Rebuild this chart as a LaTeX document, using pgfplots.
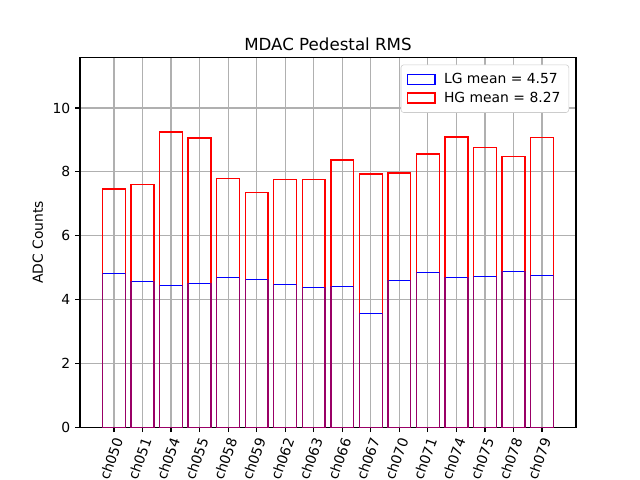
\documentclass[border=0pt]{standalone}
\usepackage{pgfplots}
\pgfplotsset{compat=1.18}
\usepackage{fontspec}
\setmainfont{DejaVu Sans}
\definecolor{gridgray}{HTML}{B0B0B0}
\begin{document}
\begin{tikzpicture}
\begin{axis}[
 width=357.12pt, height=266.11pt, scale only axis,
 xmin=-1.19, xmax=16.19, ymin=0, ymax=11.58,
 xtick={0,...,15},
 xticklabels={ch050,ch051,ch054,ch055,ch058,ch059,ch062,ch063,ch066,ch067,ch070,ch071,ch074,ch075,ch078,ch079},
 ytick={0,2,4,6,8,10},
 tick align=outside, major tick length=3.5pt,
 tick pos=left,
 grid=major, grid style={gridgray, line width=0.8pt},
 axis line style={line width=0.8pt},
 every tick/.style={black, line width=0.8pt},
 /pgf/number format/assume math mode=true,
 tick label style={font=\fontsize{10}{12}\selectfont},
 xticklabel style={xshift=4.5pt, yshift=-1.5pt, rotate=70, anchor=east},
 ylabel={ADC Counts},
 title={MDAC Pedestal RMS},
 title style={font=\fontsize{12}{14}\selectfont, yshift=-4.5pt},
 label style={font=\fontsize{10}{12}\selectfont},
 legend style={at={(1,1)}, anchor=north east, xshift=-5pt, yshift=-5pt, draw=black!20, rounded corners=2pt, inner sep=4pt, font=\fontsize{10}{12}\selectfont, row sep=0.5pt},
 legend cell align=left,
]
\addplot[ybar, bar width=0.8, bar shift=0pt, draw=blue, fill=none, line width=1pt,
  legend image code/.code={\draw[blue, line width=1pt, sharp corners] (0pt,-3.5pt) rectangle (20pt,3.5pt); \path (0pt,0pt) (24pt,0pt);}]
 coordinates {(0,4.82) (1,4.57) (2,4.44) (3,4.50) (4,4.69) (5,4.63) (6,4.48) (7,4.38) (8,4.41) (9,3.56) (10,4.60) (11,4.85) (12,4.69) (13,4.72) (14,4.88) (15,4.76)};
\addlegendentry{LG mean = 4.57}
\addplot[ybar, bar width=0.8, bar shift=0pt, draw=red, fill=none, line width=1pt,
  legend image code/.code={\draw[red, line width=1pt, sharp corners] (0pt,-3.5pt) rectangle (20pt,3.5pt); \path (0pt,0pt) (24pt,0pt);}]
 coordinates {(0,7.46) (1,7.61) (2,9.25) (3,9.06) (4,7.80) (5,7.36) (6,7.77) (7,7.77) (8,8.37) (9,7.93) (10,7.97) (11,8.56) (12,9.09) (13,8.77) (14,8.49) (15,9.08)};
\addlegendentry{HG mean = 8.27}
\addplot[ybar, bar width=0.8, bar shift=0pt, draw=blue, draw opacity=0.4, fill=none, line width=1pt, forget plot]
 coordinates {(0,4.82) (1,4.57) (2,4.44) (3,4.50) (4,4.69) (5,4.63) (6,4.48) (7,4.38) (8,4.41) (9,3.56) (10,4.60) (11,4.85) (12,4.69) (13,4.72) (14,4.88) (15,4.76)};
\end{axis}
\pgfresetboundingbox
\path[use as bounding box] (current axis.south west) ++(-57.6pt,-38.016pt) rectangle ++(460.8pt,345.6pt);
\end{tikzpicture}
\end{document}
